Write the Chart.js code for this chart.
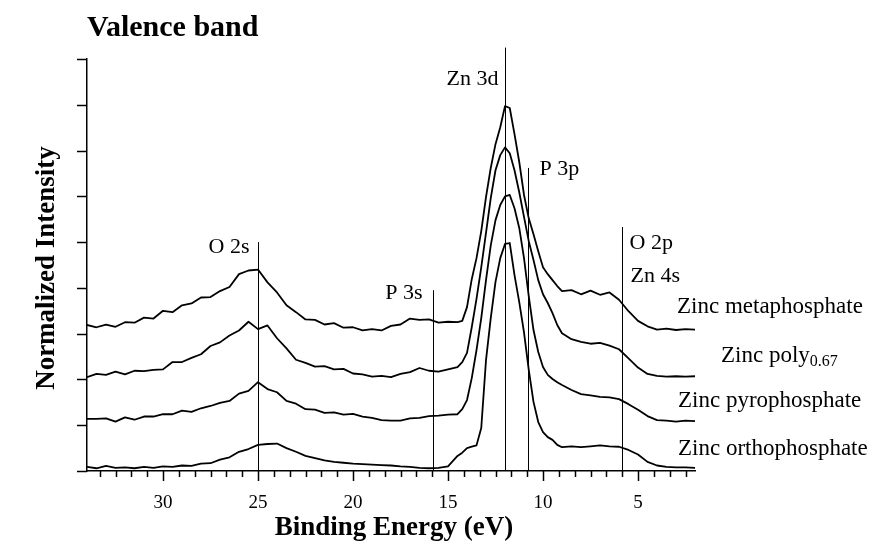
<!DOCTYPE html>
<html>
<head>
<meta charset="utf-8">
<script src="https://cdn.jsdelivr.net/npm/chart.js@4.4.1/dist/chart.umd.min.js"></script>
<style>
  html, body { margin: 0; padding: 0; background: #fff; }
  canvas { display: block; }
</style>
</head>
<body>
<canvas id="valenceChart" width="877" height="543"></canvas>
<script>
// binding energy grid (eV)
const energies = [
    34, 33.5, 33, 32.5, 32, 31.5, 31, 30.5, 30, 29.5,
    29, 28.5, 28, 27.5, 27, 26.5, 26, 25.5, 25, 24.5,
    24, 23.5, 23, 22.5, 22, 21.5, 21, 20.5, 20, 19.5,
    19, 18.5, 18, 17.5, 17, 16.5, 16, 15.5, 15, 14.5,
    14.25, 14, 13.75, 13.5, 13.25, 13, 12.75, 12.5, 12.25, 12,
    11.75, 11.5, 11.25, 11, 10.75, 10.5, 10.25, 10, 9.75, 9.5,
    9.25, 9, 8.5, 8, 7.5, 7, 6.5, 6, 5.5, 5,
    4.5, 4, 3.5, 3, 2.5, 2
];

// stacked intensities (offset spectra)
const metaphosphate = [
    3.19, 3.14, 3.20, 3.15, 3.25, 3.24, 3.35, 3.33, 3.50, 3.47,
    3.62, 3.66, 3.79, 3.80, 3.93, 4.02, 4.30, 4.38, 4.40, 4.12,
    3.90, 3.62, 3.47, 3.31, 3.30, 3.20, 3.23, 3.13, 3.14, 3.07,
    3.10, 3.07, 3.17, 3.20, 3.33, 3.30, 3.31, 3.24, 3.26, 3.25,
    3.28, 3.58, 4.19, 4.65, 5.24, 5.98, 6.62, 7.14, 7.51, 7.97,
    7.93, 7.36, 6.75, 6.03, 5.52, 5.17, 4.80, 4.45, 4.30, 4.17,
    4.04, 3.93, 3.95, 3.86, 3.94, 3.85, 3.90, 3.74, 3.49, 3.28,
    3.16, 3.09, 3.11, 3.08, 3.10, 3.09
];
const poly067 = [
    2.05, 2.12, 2.10, 2.17, 2.11, 2.19, 2.18, 2.21, 2.22, 2.38,
    2.38, 2.47, 2.55, 2.73, 2.81, 2.96, 3.07, 3.26, 3.10, 3.18,
    2.90, 2.68, 2.43, 2.36, 2.28, 2.29, 2.22, 2.23, 2.13, 2.11,
    2.06, 2.08, 2.05, 2.12, 2.16, 2.25, 2.19, 2.17, 2.22, 2.27,
    2.38, 2.58, 3.14, 3.76, 4.45, 5.20, 5.96, 6.57, 6.90, 7.07,
    6.94, 6.57, 6.09, 5.55, 5.02, 4.61, 4.17, 3.86, 3.67, 3.45,
    3.19, 3.01, 2.88, 2.82, 2.78, 2.80, 2.74, 2.66, 2.46, 2.26,
    2.12, 2.08, 2.06, 2.07, 2.06, 2.07
];
const pyrophosphate = [
    1.14, 1.14, 1.15, 1.08, 1.17, 1.12, 1.19, 1.19, 1.24, 1.24,
    1.32, 1.29, 1.37, 1.42, 1.49, 1.53, 1.69, 1.75, 1.94, 1.79,
    1.72, 1.53, 1.47, 1.35, 1.34, 1.27, 1.28, 1.23, 1.25, 1.19,
    1.16, 1.11, 1.10, 1.10, 1.15, 1.16, 1.20, 1.21, 1.23, 1.24,
    1.35, 1.55, 2.03, 2.64, 3.34, 4.17, 4.93, 5.48, 5.81, 6.00,
    6.03, 5.74, 5.31, 4.65, 3.82, 3.08, 2.60, 2.27, 2.10, 2.01,
    1.94, 1.88, 1.77, 1.68, 1.65, 1.62, 1.61, 1.57, 1.46, 1.34,
    1.20, 1.11, 1.10, 1.08, 1.10, 1.09
];
const orthophosphate = [
    0.09, 0.06, 0.11, 0.07, 0.08, 0.06, 0.09, 0.07, 0.10, 0.09,
    0.12, 0.11, 0.16, 0.17, 0.25, 0.30, 0.42, 0.48, 0.57, 0.59,
    0.60, 0.50, 0.42, 0.33, 0.28, 0.23, 0.20, 0.18, 0.16, 0.15,
    0.14, 0.13, 0.12, 0.10, 0.09, 0.07, 0.06, 0.07, 0.10, 0.33,
    0.40, 0.50, 0.53, 0.56, 0.94, 2.42, 3.34, 4.13, 4.65, 4.96,
    4.98, 4.28, 3.69, 3.03, 2.21, 1.51, 1.07, 0.85, 0.74, 0.68,
    0.57, 0.52, 0.54, 0.52, 0.54, 0.56, 0.54, 0.53, 0.46, 0.36,
    0.20, 0.12, 0.09, 0.08, 0.08, 0.07
];

const seriesNames = ["Zinc metaphosphate", "Zinc poly", "Zinc pyrophosphate", "Zinc orthophosphate"];
const tickLabels = [30, 25, 20, 15, 10, 5];

// reference lines: energy and how high the line reaches
const peakNames = ["O 2s", "P 3s", "Zn 3d", "P 3p", "O 2p"];
const peakEnergies = [25, 15.8, 12.0, 10.8, 5.85];
const peakTops = [5.0, 3.95, 9.25, 6.62, 5.33];

const SERIF = '"Liberation Serif", "Times New Roman", serif';

function toPoints(vals) {
    return energies.map((e, i) => ({ x: e, y: vals[i] }));
}

const decorations = {
    id: "decorations",
    afterDraw(chart) {
        const { ctx, chartArea, scales } = chart;
        const x = scales.x, y = scales.y;
        ctx.save();
        ctx.strokeStyle = "#000";
        ctx.fillStyle = "#000";

        // x ticks: majors every 5 eV, 5 minors between
        ctx.lineWidth = 1.5;
        for (let n = -3; n <= 34; n++) {
            const v = 5 + n * 5 / 6;
            if (v < 2 || v > 34.01) continue;
            const px = Math.round(x.getPixelForValue(v)) + 0.5;
            const len = n % 6 === 0 ? 10 : 6;
            ctx.beginPath();
            ctx.moveTo(px, chartArea.bottom);
            ctx.lineTo(px, chartArea.bottom + len);
            ctx.stroke();
        }
        // y ticks, pointing out to the left
        for (let v = 0; v <= 9; v++) {
            const py = Math.round(y.getPixelForValue(v)) + 0.5;
            ctx.beginPath();
            ctx.moveTo(chartArea.left - 10, py);
            ctx.lineTo(chartArea.left, py);
            ctx.stroke();
        }

        // peak marker lines
        ctx.lineWidth = 1;
        const px = [];
        peakEnergies.forEach((e, i) => {
            const p = Math.round(x.getPixelForValue(e)) + 0.5;
            px.push(p);
            ctx.beginPath();
            ctx.moveTo(p, y.getPixelForValue(peakTops[i]));
            ctx.lineTo(p, chartArea.bottom);
            ctx.stroke();
        });

        ctx.font = "22px " + SERIF;
        ctx.textBaseline = "alphabetic";
        ctx.textAlign = "right";
        ctx.fillText(peakNames[0], px[0] - 9, 253);
        ctx.fillText(peakNames[1], px[1] - 11, 299);
        ctx.fillText(peakNames[2], px[2] - 7, 85);
        ctx.textAlign = "left";
        ctx.fillText(peakNames[3], px[3] + 11, 175);
        ctx.fillText(peakNames[4], px[4] + 7, 249);
        ctx.fillText("Zn 4s", px[4] + 8, 282);

        // series labels
        ctx.font = "23px " + SERIF;
        ctx.fillText(seriesNames[0], 677, 313);
        ctx.fillText(seriesNames[1], 721, 362);
        const w = ctx.measureText(seriesNames[1]).width;
        ctx.font = "16px " + SERIF;
        ctx.fillText("0.67", 721 + w, 366);
        ctx.font = "23px " + SERIF;
        ctx.fillText(seriesNames[2], 678, 407);
        ctx.fillText(seriesNames[3], 678, 455);

        // titles
        ctx.font = "bold 30px " + SERIF;
        ctx.fillText("Valence band", 87, 36);
        ctx.font = "bold 27px " + SERIF;
        ctx.textAlign = "center";
        ctx.fillText("Binding Energy (eV)", 394, 535);
        ctx.save();
        ctx.translate(47, 268);
        ctx.rotate(-Math.PI / 2);
        ctx.textBaseline = "middle";
        ctx.fillText("Normalized Intensity", 0, 0);
        ctx.restore();

        ctx.restore();
    }
};

const lineStyle = {
    borderColor: "#000",
    borderWidth: 1.8,
    pointRadius: 0,
    tension: 0,
    fill: false,
    borderJoinStyle: "round"
};

new Chart(document.getElementById("valenceChart"), {
    type: "line",
    data: {
        datasets: [
            { label: seriesNames[0], data: toPoints(metaphosphate), ...lineStyle },
            { label: seriesNames[1], data: toPoints(poly067), ...lineStyle },
            { label: seriesNames[2], data: toPoints(pyrophosphate), ...lineStyle },
            { label: seriesNames[3], data: toPoints(orthophosphate), ...lineStyle },
        ],
    },
    options: {
        responsive: false,
        animation: false,
        devicePixelRatio: 1,
        layout: { padding: { left: 0, right: 182, top: 59, bottom: 0 } },
        plugins: {
            legend: { display: false },
            tooltip: { enabled: false },
        },
        scales: {
            x: {
                type: "linear",
                min: 2,
                max: 34,
                reverse: true,
                grid: { display: false },
                border: { color: "#000", width: 1.5 },
                afterBuildTicks: (scale) => {
                    scale.ticks = tickLabels.map((v) => ({ value: v }));
                },
                afterFit: (scale) => { scale.height = 72; },
                ticks: {
                    autoSkip: false,
                    maxRotation: 0,
                    padding: 13,
                    color: "#000",
                    font: { family: SERIF, size: 19 },
                },
            },
            y: {
                min: 0,
                max: 9,
                grid: { display: false },
                border: { color: "#000", width: 1.5 },
                afterFit: (scale) => { scale.width = 87; },
                ticks: { display: false },
            },
        },
    },
    plugins: [decorations],
});
</script>
</body>
</html>
